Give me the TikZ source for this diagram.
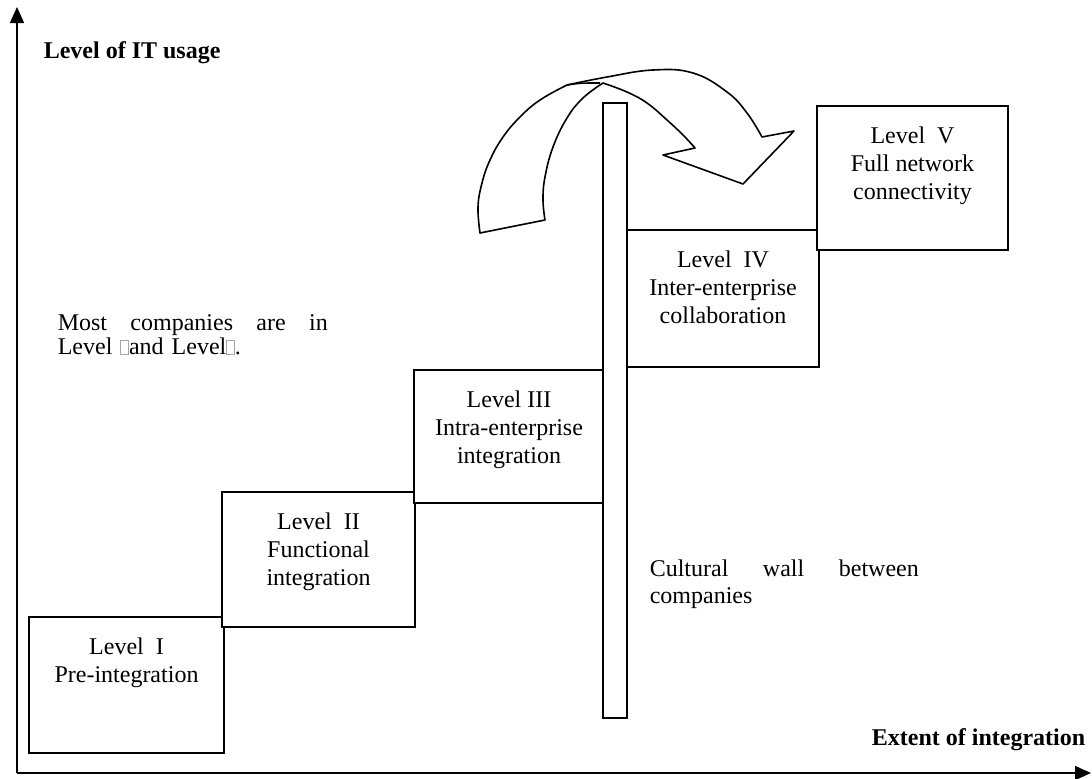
\documentclass[tikz,border=0pt]{standalone}
\usepackage{fontspec}
\setmainfont{Liberation Serif}
\usetikzlibrary{arrows.meta}

% small grey frame standing for a glyph the font could not show
\newcommand{\nochar}{{\color{black!35}\setlength{\fboxrule}{0.4pt}\setlength{\fboxsep}{0pt}\fbox{\rule{0pt}{7pt}\hspace{3.5pt}}}}
% tight line spacing for the notes
\newcommand{\tightlines}{\lineskiplimit=-6pt\relax}

\begin{document}
\begin{tikzpicture}[x=0.5pt,y=-0.5pt,
  line width=0.8pt,
  levelbox/.style={draw, fill=white, inner sep=0pt, outer sep=0pt},
  leveltext/.style={anchor=north, align=center, inner sep=0pt,
    font=\fontsize{12pt}{14pt}\selectfont},
  axislabel/.style={inner sep=0pt, font=\fontsize{12pt}{14pt}\selectfont\bfseries},
  note/.style={anchor=north west, align=left, inner sep=0pt},
  axis/.style={-{Triangle[length=8pt,width=7pt]}, line width=0.8pt},
  wallbox/.style={draw, fill=white, inner sep=0pt, outer sep=0pt,
    minimum width=12pt, minimum height=307.5pt}
]
\useasboundingbox (0,0) rectangle (1092,778);

% axes
\coordinate (origin) at (17,773);
\coordinate (ytip) at (17,7);
\coordinate (xtip) at (1091,773);
\draw[axis] (origin) -- (ytip);
\draw[axis] (origin) -- (xtip);
\node[axislabel, anchor=west] (ylab) at (43,53) {Level of IT usage};
\node[axislabel, anchor=east] (xlab) at (1086,740) {Extent of integration};

% the five levels as a staircase
\node[levelbox, minimum width=97.5pt, minimum height=68pt] (l1) at (126.5,685) {};
\node[levelbox, minimum width=96.5pt, minimum height=67.5pt] (l2) at (318.5,559.5) {};
\node[levelbox, minimum width=95pt, minimum height=66.5pt] (l3) at (509,436.5) {};
\node[levelbox, minimum width=96pt, minimum height=68.5pt] (l4) at (723,298.5) {};
\node[levelbox, minimum width=95.5pt, minimum height=72pt] (l5) at (912.5,178) {};

\node[leveltext] (t1) at ([yshift=-10pt]l1.north) {Level\ \ I\\Pre-integration};
\node[leveltext] (t2) at ([yshift=-10pt]l2.north) {Level\ \ II\\Functional\\integration};
\node[leveltext] (t3) at ([yshift=-10pt]l3.north) {Level III\\Intra-enterprise\\integration};
\node[leveltext] (t4) at ([yshift=-10pt]l4.north) {Level\ \ IV\\Inter-enterprise\\collaboration};
\node[leveltext] (t5) at ([yshift=-10pt]l5.north) {Level\ \ V\\Full network\\connectivity};

% the cultural wall
\node[wallbox] (wall) at (615,410.5) {};

% notes
\node[note, text width=135pt, font=\fontsize{12pt}{10pt}\selectfont] (most) at (57,314)
  {\tightlines Most\hfill companies\hfill are\hfill in\\Level \nochar and Level\nochar.};
\node[note, text width=134.5pt, font=\fontsize{12pt}{13.5pt}\selectfont] (cult) at (649,559)
  {Cultural\hfill wall\hfill between\\companies};

% curved arrow jumping over the wall
\draw[fill=white, line join=round]
  (480,233)
  -- plot[smooth, tension=0.7] coordinates {(480,233) (478,207) (482,183) (490,160) (503,137) (520,117) (540,100) (567,85)}
  -- plot[smooth, tension=0.7] coordinates {(567,85) (607,77) (653,70) (693,73) (727,92) (747,113) (762,137)}
  -- (794,131) -- (743,184) -- (663,155) -- (695,148)
  -- plot[smooth, tension=0.7] coordinates {(695,148) (683,135) (667,120) (647,103) (627,92) (603,83)}
  -- plot[smooth, tension=0.7] coordinates {(603,83) (583,98) (567,118) (553,147) (545,177) (543,200) (545,220)}
  -- cycle;
\draw[line join=round] (567,85) .. controls (580,83) .. (600,83);
\end{tikzpicture}
\end{document}
